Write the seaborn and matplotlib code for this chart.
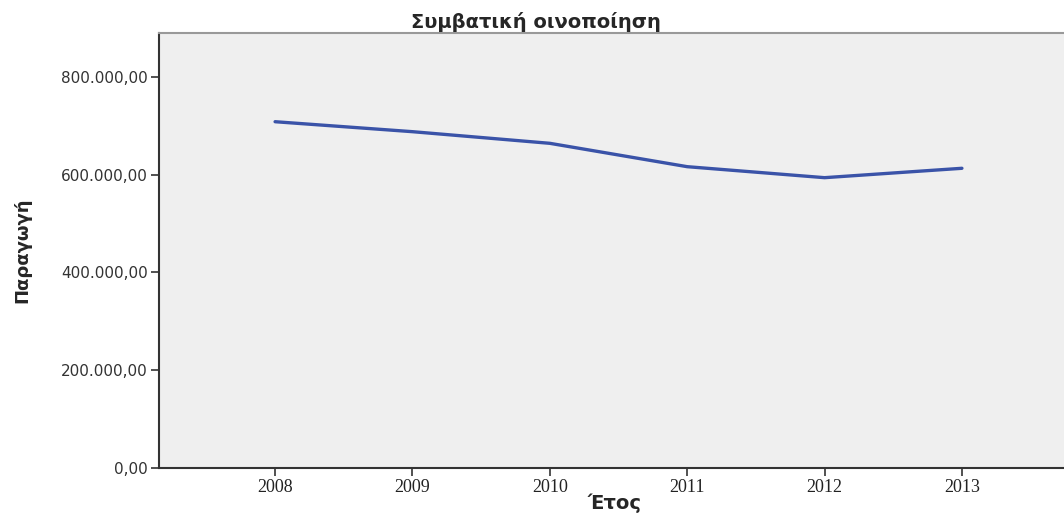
import matplotlib
matplotlib.use("Agg")
import matplotlib.pyplot as plt
import matplotlib.ticker as mticker
import seaborn as sns
import pandas as pd

years = [2008, 2009, 2010, 2011, 2012, 2013]
production = [708500, 688100, 664300, 616500, 594000, 613200]
title = "Συμβατική οινοποίηση"
xlabel = "Έτος"
ylabel = "Παραγωγή"

df = pd.DataFrame({"year": years, "prod": production})

sns.set_theme(style="white")
plt.rcParams['font.family'] = ['DejaVu Sans']

fig = plt.figure(figsize=(10.64, 5.15), dpi=100)
W, H = 1064, 515
left, right, top, bottom = 159, 1078, 33, 468
ax = fig.add_axes([left / W, 1 - bottom / H, (right - left) / W, (bottom - top) / H])
ax.set_facecolor("#efefef")

sns.lineplot(data=df, x="year", y="prod", ax=ax, color="#3a53a8", linewidth=2.4)

ax.set_xlim(2008 - 0.845, 2013 + 0.845)
ax.set_ylim(0, 890000)
ax.set_xticks(years)
ax.set_yticks([0, 200000, 400000, 600000, 800000])

def fmt(v, pos):
    s = f"{v:,.2f}"
    return s.replace(",", "X").replace(".", ",").replace("X", ".")

ax.yaxis.set_major_formatter(mticker.FuncFormatter(fmt))

for lab in ax.get_yticklabels():
    lab.set_fontsize(11)
    lab.set_color("#333333")
for lab in ax.get_xticklabels():
    lab.set_fontfamily("Liberation Serif")
    lab.set_fontsize(13)
    lab.set_color("#222222")

ax.tick_params(axis="both", direction="out", length=6, width=1.2, color="#333333", left=True, bottom=True)
ax.tick_params(axis="y", pad=2)
ax.tick_params(axis="x", pad=2)

for side in ["left", "bottom"]:
    ax.spines[side].set_color("#333333")
    ax.spines[side].set_linewidth(1.5)
ax.spines["top"].set_color("#999999")
ax.spines["top"].set_linewidth(1.5)
ax.spines["right"].set_visible(False)

ax.set_xlabel(xlabel, fontsize=14, fontweight="bold")
ax.xaxis.set_label_coords((615 - left) / (right - left), -(503 - bottom) / (bottom - top))
ax.xaxis.label.set_va("center")
ax.set_ylabel(ylabel, fontsize=13, fontweight="bold")
ax.yaxis.set_label_coords((22 - left) / (right - left), 0.5)
ax.yaxis.label.set_va("center")

fig.text(0.504, 1 - 22 / H, title, ha="center", va="center", fontsize=14, fontweight="bold")

fig.savefig("out.png", dpi=100, facecolor="white")
